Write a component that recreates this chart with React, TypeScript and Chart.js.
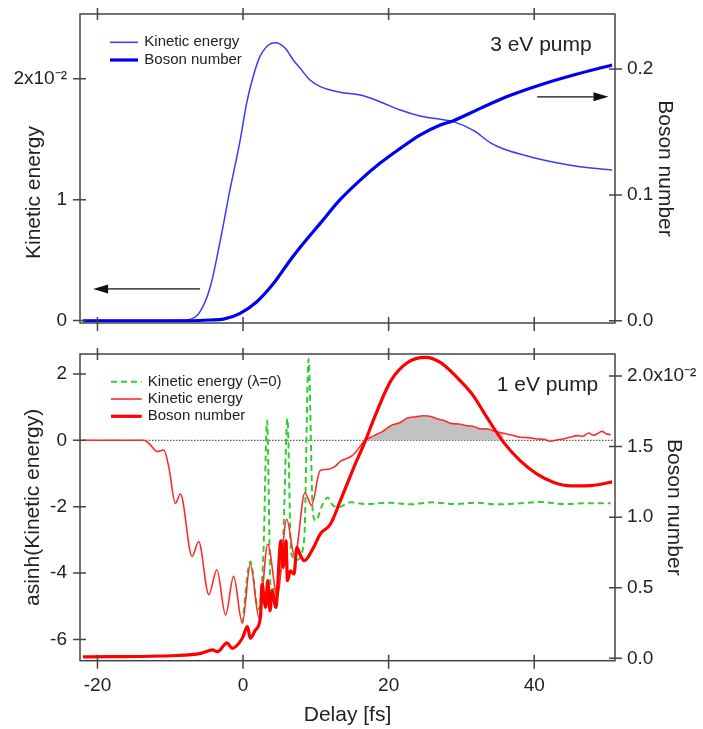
import React, { useEffect, useRef } from "react";
import { Chart, registerables } from "chart.js";

Chart.register(...registerables);

// ---------- Top panel (3 eV pump) ----------
const KE3_DELAY = [-22, -12, -9, -7.3, -5.9, -4.5, -3.2, -1.8, -0.4, 0.5, 1.4, 2.3, 3.5, 4.5, 5.8, 6.9, 7.8, 9.2, 10.6, 13.3, 16.1, 18.8, 21.6, 24.3, 27.1, 28.9, 31.7, 34.0, 36.2, 38.5, 40.8, 45.4, 50.7];
const KE3 = [0, 0, 0.00002, 0.0001, 0.00074, 0.0028, 0.0064, 0.0108, 0.0149, 0.018, 0.0202, 0.0218, 0.02279, 0.02298, 0.02251, 0.02155, 0.0209, 0.01989, 0.01934, 0.01888, 0.01865, 0.0181, 0.01741, 0.01692, 0.01664, 0.01645, 0.0157, 0.0147, 0.0141, 0.0137, 0.01334, 0.0128, 0.01245];
const BOSON3_DELAY = [-22, -8, -6, -4.5, -2.7, -0.4, 1.9, 4.2, 6.5, 7.8, 10.6, 13.3, 16.1, 18.8, 21.6, 24.3, 27.1, 28.9, 32.6, 36.2, 40.8, 45.4, 50.7];
const BOSON3 = [0, 0, 0.0002, 0.0006, 0.0013, 0.0059, 0.0151, 0.0297, 0.0483, 0.058, 0.0774, 0.096, 0.1118, 0.1251, 0.137, 0.1476, 0.1556, 0.159, 0.1688, 0.178, 0.1874, 0.1953, 0.2033];

// ---------- Bottom panel (1 eV pump) ----------
const KE1_DELAY = [-22, -13.6, -12.8, -11.8, -10.9, -10.2, -9.3, -8.6, -7.0, -6.1, -4.7, -3.6, -2.4, -1.3, -0.1, 1.0, 2.2, 3.4, 4.7, 6.0, 7.1, 8.5, 9.4, 10.6, 11.5, 12.5, 13.4, 15.0, 16.8, 18.0, 19.2, 20.3, 21.5, 22.6, 23.8, 24.8, 25.8, 26.7, 27.6, 28.5, 29.6, 30.8, 31.8, 32.6, 33.5, 34.6, 35.8, 37.0, 38.1, 39.2, 40.4, 41.3, 42.2, 43.1, 44.0, 44.9, 45.9, 46.7, 47.5, 48.1, 48.6, 49.3, 49.9, 50.5];
const KE1 = [0, 0, -0.12, -0.34, -0.29, -0.8, -1.9, -1.62, -3.5, -3.05, -4.65, -3.9, -5.26, -4.1, -5.51, -3.72, -5.35, -3.13, -4.7, -2.38, -3.51, -1.58, -1.96, -0.91, -0.88, -0.81, -0.63, -0.46, 0, 0.14, 0.27, 0.44, 0.53, 0.67, 0.71, 0.74, 0.72, 0.64, 0.6, 0.51, 0.49, 0.44, 0.41, 0.34, 0.35, 0.27, 0.21, 0.15, 0.09, 0.08, 0.04, 0.03, -0.03, 0.01, 0.04, 0.09, 0.14, 0.12, 0.22, 0.15, 0.19, 0.27, 0.2, 0.17];
// λ=0 curve: coincides with the kinetic-energy curve before ~0 fs (hidden beneath it)
const KE0_DELAY = [-0.1, 1.0, 2.1, 2.8, 3.3, 3.8, 4.6, 5.5, 6.1, 6.6, 7.4, 8.4, 9.0, 9.6, 10.0, 10.8, 11.6, 12.3, 13.0, 14.8, 17.0, 20.0, 23.0, 26.0, 29.0, 32.0, 35.0, 38.0, 41.0, 44.0, 47.0, 50.5];
const KE0 = [-5.51, -3.65, -5.1, -3.4, 0.6, -4.5, -4.4, -3.0, 0.65, -3.4, -3.6, -3.0, 2.45, -2.2, -2.42, -2.0, -1.72, -1.95, -2.02, -1.87, -1.92, -1.88, -1.93, -1.87, -1.92, -1.88, -1.93, -1.9, -1.86, -1.92, -1.9, -1.9];
const BOSON1_DELAY = [-22, -9.0, -5.8, -4.2, -3.5, -2.2, -1.5, -0.1, 0.6, 1.0, 1.7, 2.4, 2.6, 3.1, 3.4, 3.7, 4.0, 4.5, 5.2, 5.5, 5.9, 6.1, 6.5, 7.0, 7.4, 7.8, 8.4, 9.7, 10.6, 12.0, 13.4, 15.2, 16.8, 18.0, 20.3, 22.6, 25.1, 27.1, 29.4, 31.5, 33.5, 35.8, 38.1, 40.4, 42.7, 45.0, 47.0, 48.5, 50.7];
const BOSON1 = [0.0001, 0.0002, 0.00035, 0.00059, 0.00047, 0.0011, 0.00071, 0.00142, 0.00224, 0.00142, 0.002, 0.00295, 0.00526, 0.00361, 0.0055, 0.00337, 0.00479, 0.00361, 0.00833, 0.00644, 0.00833, 0.0055, 0.0062, 0.00597, 0.00786, 0.00739, 0.00691, 0.00786, 0.0088, 0.0095, 0.0112, 0.0135, 0.0154, 0.017, 0.01966, 0.02096, 0.02132, 0.02096, 0.0199, 0.0187, 0.01707, 0.0153, 0.01399, 0.01305, 0.01246, 0.01222, 0.01222, 0.01228, 0.0125];
const FILL_RANGE = [16.8, 36.0];

// ---------- Axes ----------
const X_RANGE = [-22.4, 51.1];
const X_TICKS = [-20, 0, 20, 40];
const X_LABELS = ["-20", "0", "20", "40"];
const TOP_LEFT_RANGE = [-0.0002, 0.02535];
const TOP_LEFT_TICKS = [0, 0.01, 0.02];
const TOP_LEFT_LABELS = ["0", "1", "2x10\u207B\u00B2"];
const TOP_RIGHT_RANGE = [-0.0018, 0.2438];
const TOP_RIGHT_TICKS = [0, 0.1, 0.2];
const TOP_RIGHT_LABELS = ["0.0", "0.1", "0.2"];
const BOT_LEFT_RANGE = [-6.64, 2.6];
const BOT_LEFT_TICKS = [-6, -4, -2, 0, 2];
const BOT_LEFT_LABELS = ["-6", "-4", "-2", "0", "2"];
const BOT_RIGHT_RANGE = [-0.00017, 0.02156];
const BOT_RIGHT_TICKS = [0, 0.005, 0.01, 0.015, 0.02];
const BOT_RIGHT_LABELS = ["0.0", "0.5", "1.0", "1.5", "2.0x10\u207B\u00B2"];

// annotation arrows (data units)
const LEFT_ARROW = { from: -5.9, to: -20.6, y: 0.00262 };
const RIGHT_ARROW = { from: 40.4, to: 50.2, y: 0.178 };

const FONT = '"Liberation Sans", Arial, Helvetica, sans-serif';
const TEXT = "#222";
const AXIS = "#444";

Chart.defaults.font.family = FONT;

function pts(xs: number[], ys: number[]) {
  return xs.map((x, i) => ({ x, y: ys[i] }));
}

function scale(position: string, range: number[], ticks: number[], labels: string[] | null, size: number, pad: number, title?: string, titlePad?: any) {
  const horizontal = position === "top" || position === "bottom";
  return {
    type: "linear",
    position,
    min: range[0],
    max: range[1],
    grid: { display: false, drawTicks: false },
    border: { display: false },
    afterBuildTicks: (s: any) => {
      s.ticks = ticks.map((v) => ({ value: v }));
    },
    afterFit: (s: any) => {
      if (horizontal) s.height = size;
      else s.width = size;
      s.paddingTop = 0;
      s.paddingBottom = 0;
      s.paddingLeft = 0;
      s.paddingRight = 0;
    },
    ticks: {
      display: !!labels,
      autoSkip: false,
      maxRotation: 0,
      minRotation: 0,
      padding: pad,
      color: TEXT,
      font: { family: FONT, size: 19 },
      callback: (v: number) => {
        const i = ticks.indexOf(v);
        return labels && i >= 0 ? labels[i] : "";
      },
    },
    title: title
      ? { display: true, text: title, color: TEXT, font: { family: FONT, size: 21 }, padding: titlePad }
      : { display: false },
  };
}

function drawFrame(chart: any) {
  const { ctx, chartArea: a, scales } = chart;
  ctx.save();
  ctx.strokeStyle = AXIS;
  ctx.lineWidth = 1.5;
  ctx.strokeRect(a.left, a.top, a.right - a.left, a.bottom - a.top);
  ctx.beginPath();
  for (const t of scales.x.ticks) {
    const p = scales.x.getPixelForValue(t.value);
    ctx.moveTo(p, a.bottom - 6);
    ctx.lineTo(p, a.bottom + 8);
    ctx.moveTo(p, a.top - 6);
    ctx.lineTo(p, a.top + 6);
  }
  for (const t of scales.y.ticks) {
    const p = scales.y.getPixelForValue(t.value);
    ctx.moveTo(a.left - 7, p);
    ctx.lineTo(a.left + 6, p);
  }
  for (const t of scales.y1.ticks) {
    const p = scales.y1.getPixelForValue(t.value);
    ctx.moveTo(a.right - 6, p);
    ctx.lineTo(a.right + 7, p);
  }
  ctx.stroke();
  ctx.restore();
}

function drawLegend(chart: any, labels: string[], x0: number, x1: number, xt: number, y0: number, dy: number) {
  const { ctx, chartArea: a } = chart;
  labels.forEach((lab, i) => {
    const ds = chart.data.datasets.find((d: any) => d.label === lab);
    const y = a.top + y0 + i * dy;
    ctx.save();
    ctx.strokeStyle = ds.borderColor;
    ctx.lineWidth = ds.borderWidth;
    ctx.setLineDash(ds.borderDash || []);
    ctx.beginPath();
    ctx.moveTo(a.left + x0, y);
    ctx.lineTo(a.left + x1, y);
    ctx.stroke();
    ctx.setLineDash([]);
    ctx.fillStyle = TEXT;
    ctx.font = `15px ${FONT}`;
    ctx.textBaseline = "middle";
    ctx.textAlign = "left";
    ctx.fillText(lab, a.left + xt, y);
    ctx.restore();
  });
}

function drawArrow(ctx: any, x1: number, x2: number, y: number) {
  const dir = Math.sign(x2 - x1);
  const head = 15;
  const half = 4.5;
  ctx.save();
  ctx.strokeStyle = "#111";
  ctx.fillStyle = "#111";
  ctx.lineWidth = 1.3;
  ctx.beginPath();
  ctx.moveTo(x1, y);
  ctx.lineTo(x2 - dir * head, y);
  ctx.stroke();
  ctx.beginPath();
  ctx.moveTo(x2, y);
  ctx.lineTo(x2 - dir * head, y - half);
  ctx.lineTo(x2 - dir * head, y + half);
  ctx.closePath();
  ctx.fill();
  ctx.restore();
}

function drawText(ctx: any, text: string, x: number, y: number, align: string, size: number, rot = 0) {
  ctx.save();
  ctx.translate(x, y);
  ctx.rotate(rot);
  ctx.fillStyle = TEXT;
  ctx.font = `${size}px ${FONT}`;
  ctx.textAlign = align;
  ctx.textBaseline = "middle";
  ctx.fillText(text, 0, 0);
  ctx.restore();
}

const topDecor = {
  id: "topDecor",
  afterDatasetsDraw(chart: any) {
    const { ctx, chartArea: a, scales } = chart;
    drawFrame(chart);
    drawLegend(chart, ["Kinetic energy", "Boson number"], 30, 58, 64.3, 28.3, 17.7);
    drawText(ctx, "3 eV pump", a.right - 23.3, a.top + 31, "right", 21);
    drawArrow(ctx, scales.x.getPixelForValue(LEFT_ARROW.from), scales.x.getPixelForValue(LEFT_ARROW.to), scales.y.getPixelForValue(LEFT_ARROW.y));
    drawArrow(ctx, scales.x.getPixelForValue(RIGHT_ARROW.from), scales.x.getPixelForValue(RIGHT_ARROW.to), scales.y1.getPixelForValue(RIGHT_ARROW.y));
    drawText(ctx, "Kinetic energy", 34, 192.5, "center", 21, -Math.PI / 2);
  },
};

const botDecor = {
  id: "botDecor",
  beforeDatasetsDraw(chart: any) {
    const { ctx, chartArea: a, scales } = chart;
    const y = scales.y.getPixelForValue(0);
    ctx.save();
    ctx.strokeStyle = "#333";
    ctx.lineWidth = 1;
    ctx.setLineDash([1.5, 1.5]);
    ctx.beginPath();
    ctx.moveTo(a.left, y);
    ctx.lineTo(a.right, y);
    ctx.stroke();
    ctx.restore();
  },
  afterDatasetsDraw(chart: any) {
    const { ctx, chartArea: a } = chart;
    drawFrame(chart);
    drawLegend(chart, ["Kinetic energy (\u03BB=0)", "Kinetic energy", "Boson number"], 31, 61.7, 67.7, 27.7, 17.3);
    drawText(ctx, "1 eV pump", a.right - 16.7, a.top + 31.5, "right", 21);
  },
};

function baseOptions(scales: any) {
  return {
    responsive: false,
    animation: false,
    events: [],
    layout: { padding: { top: 14, left: 0, right: 0, bottom: 0 } },
    elements: {
      point: { radius: 0, hoverRadius: 0 },
      line: { cubicInterpolationMode: "monotone", fill: false },
    },
    plugins: { legend: { display: false }, tooltip: { enabled: false } },
    scales,
  };
}

function topConfig(): any {
  return {
    type: "line",
    data: {
      datasets: [
        { label: "Kinetic energy", data: pts(KE3_DELAY, KE3), yAxisID: "y", borderColor: "#3a3aff", borderWidth: 1.5, order: 1 },
        { label: "Boson number", data: pts(BOSON3_DELAY, BOSON3), yAxisID: "y1", borderColor: "#0000f0", borderWidth: 3.2, order: 0 },
      ],
    },
    options: baseOptions({
      x: scale("bottom", X_RANGE, X_TICKS, null, 17, 0),
      y: scale("left", TOP_LEFT_RANGE, TOP_LEFT_TICKS, TOP_LEFT_LABELS, 80, 13),
      y1: scale("right", TOP_RIGHT_RANGE, TOP_RIGHT_TICKS, TOP_RIGHT_LABELS, 88, 12, "Boson number", { top: 25.4, bottom: 0 }),
    }),
    plugins: [topDecor],
  };
}

function botConfig(): any {
  const fillPts = pts(KE1_DELAY, KE1).filter((p) => p.x >= FILL_RANGE[0] && p.x <= FILL_RANGE[1]);
  return {
    type: "line",
    data: {
      datasets: [
        { label: "positive part", data: fillPts, yAxisID: "y", borderColor: "transparent", borderWidth: 0, backgroundColor: "#c2c2c2", fill: "origin", order: 3 },
        { label: "Kinetic energy (\u03BB=0)", data: pts(KE0_DELAY, KE0), yAxisID: "y", borderColor: "#33cc33", borderWidth: 2, borderDash: [6, 4], order: 2 },
        { label: "Kinetic energy", data: pts(KE1_DELAY, KE1), yAxisID: "y", borderColor: "#ff2a2a", borderWidth: 1.6, order: 1 },
        { label: "Boson number", data: pts(BOSON1_DELAY, BOSON1), yAxisID: "y1", borderColor: "#ff0000", borderWidth: 3.2, order: 0 },
      ],
    },
    options: baseOptions({
      x: scale("bottom", X_RANGE, X_TICKS, X_LABELS, 68.3, 13.6, "Delay [fs]", { top: 0, bottom: 1.4 }),
      y: scale("left", BOT_LEFT_RANGE, BOT_LEFT_TICKS, BOT_LEFT_LABELS, 80, 13, "asinh(Kinetic energy)", { top: 20.7, bottom: 0 }),
      y1: scale("right", BOT_RIGHT_RANGE, BOT_RIGHT_TICKS, BOT_RIGHT_LABELS, 88, 12, "Boson number", { top: 16.4, bottom: 0 }),
    }),
    plugins: [botDecor],
  };
}

export default function App() {
  const topRef = useRef<HTMLCanvasElement>(null);
  const botRef = useRef<HTMLCanvasElement>(null);
  useEffect(() => {
    const c1 = new Chart(topRef.current as HTMLCanvasElement, topConfig());
    const c2 = new Chart(botRef.current as HTMLCanvasElement, botConfig());
    return () => {
      c1.destroy();
      c2.destroy();
    };
  }, []);
  return (
    <div style={{ position: "absolute", left: 0, top: 0, width: 703, height: 729, background: "#fff" }}>
      <canvas ref={topRef} width={703} height={340} style={{ position: "absolute", left: 0, top: 0, width: 703, height: 340, display: "block" }} />
      <canvas ref={botRef} width={703} height={389} style={{ position: "absolute", left: 0, top: 340, width: 703, height: 389, display: "block" }} />
    </div>
  );
}
